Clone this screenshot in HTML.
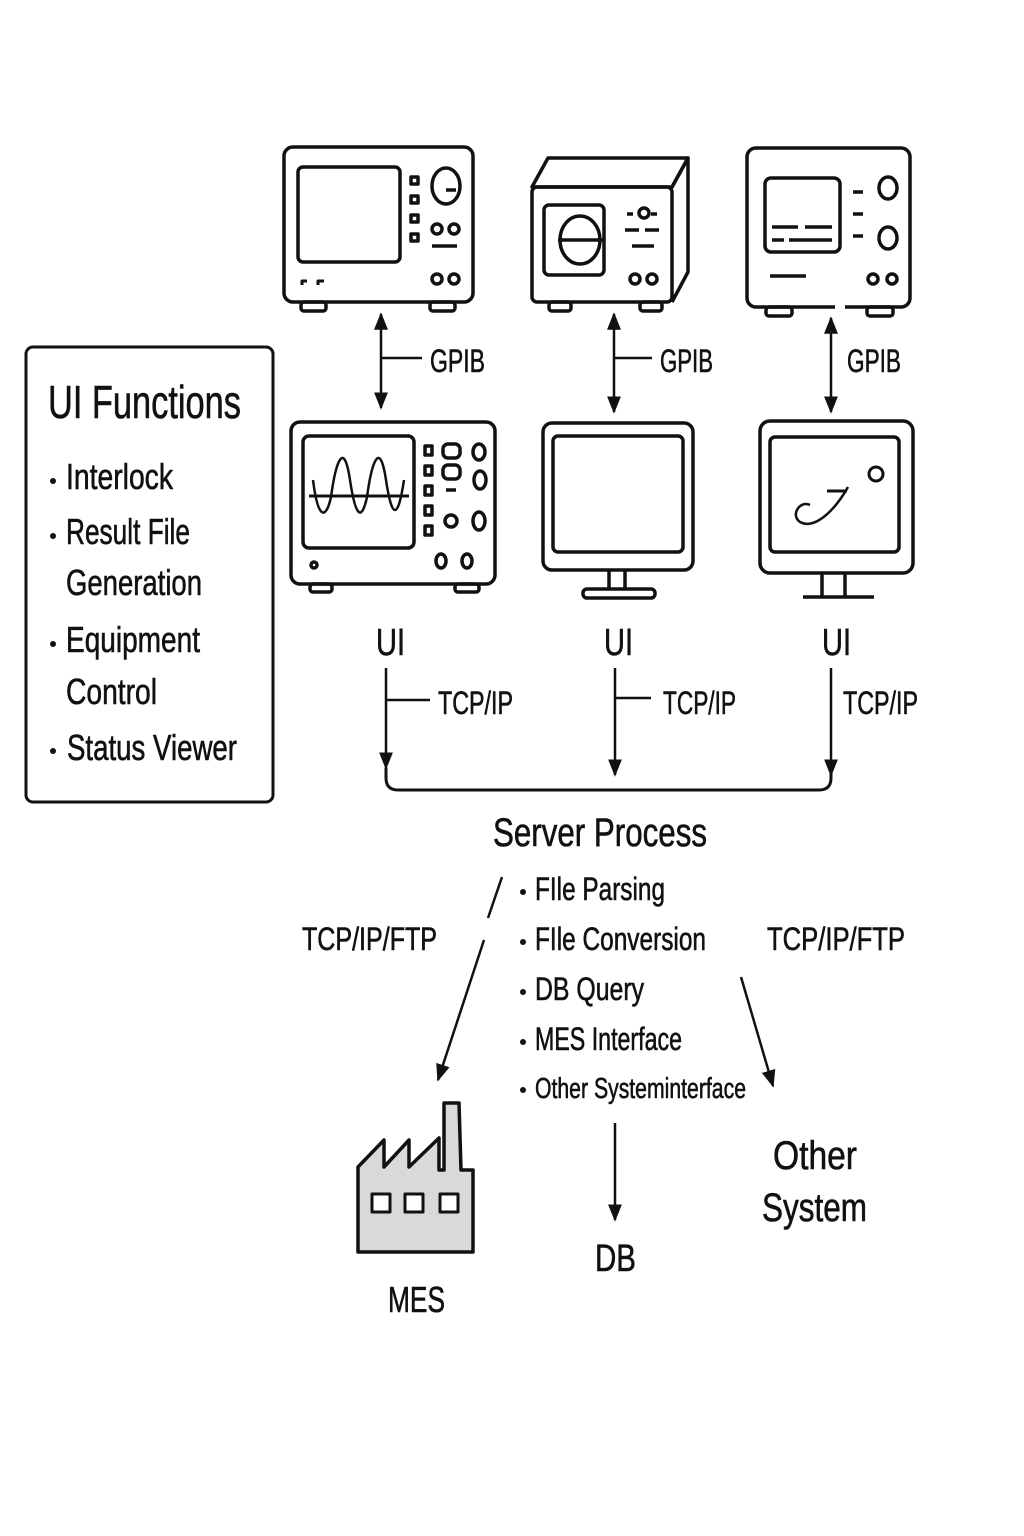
<!DOCTYPE html>
<html><head><meta charset="utf-8"><style>html,body{margin:0;padding:0;background:#fff}svg{display:block}text{font-family:"Liberation Sans Narrow","Liberation Sans",sans-serif;fill:#111;stroke:#111;stroke-width:0.6}</style></head>
<body>
<svg width="1024" height="1536" viewBox="0 0 1024 1536" xmlns="http://www.w3.org/2000/svg">
<defs><marker id="ah" viewBox="0 0 10 10" refX="9" refY="5" markerWidth="7" markerHeight="7" orient="auto-start-reverse"><path d="M0,1 L10,5 L0,9 z" fill="#111"/></marker></defs>
<g fill="none" stroke="#111" stroke-width="3.5" stroke-linejoin="round">
<!-- device 1 -->
<rect x="284" y="147" width="189" height="155" rx="9"/>
<rect x="298" y="167" width="102" height="95" rx="5"/>
<rect x="301" y="302" width="25" height="9" rx="3"/><rect x="430" y="302" width="25" height="9" rx="3"/>
<rect x="411" y="177" width="7" height="7"/><rect x="411" y="196" width="7" height="7"/><rect x="411" y="215" width="7" height="7"/><rect x="411" y="234" width="7" height="7"/>
<ellipse cx="446" cy="186" rx="14" ry="18"/><path d="M446,190 h10"/>
<circle cx="437" cy="229" r="5"/><circle cx="454" cy="229" r="5"/><path d="M432,246 h25"/>
<circle cx="437" cy="279" r="5"/><circle cx="454" cy="279" r="5"/>
<path d="M302,285 v-4 h5 M318,285 v-4 h6" stroke-width="3"/>
<!-- device 2 -->
<path d="M532,187 L548,158 L688,158 L672,187 Z"/>
<rect x="532" y="187" width="140" height="115" rx="5"/>
<path d="M672,187 L688,158 L688,272 L672,302"/>
<rect x="544" y="205" width="60" height="70" rx="5"/>
<ellipse cx="580" cy="240" rx="20" ry="24"/><path d="M558,240 h46"/>
<path d="M627,214 h6 M651,214 h6 M625,230 h14 M645,230 h14 M632,246 h22"/><circle cx="644" cy="213" r="5"/>
<circle cx="635" cy="279" r="5"/><circle cx="652" cy="279" r="5"/>
<rect x="549" y="302" width="22" height="9" rx="3"/><rect x="640" y="302" width="22" height="9" rx="3"/>
<!-- device 3 -->
<rect x="747" y="148" width="163" height="159" rx="9"/>
<rect x="766" y="307" width="26" height="9" rx="3"/><rect x="867" y="307" width="26" height="9" rx="3"/>
<path d="M835,307 h10" stroke="#fff" stroke-width="6"/>
<rect x="765" y="178" width="75" height="74" rx="6"/>
<path d="M772,227 h26 M805,227 h27 M772,240 h12 M789,240 h43 M770,276 h36 M853,192 h10 M853,214 h10 M853,236 h10"/>
<ellipse cx="888" cy="188" rx="9" ry="11"/><ellipse cx="888" cy="238" rx="9" ry="11"/>
<circle cx="873" cy="279" r="5"/><circle cx="892" cy="279" r="5"/>
<!-- GPIB arrows -->
<path d="M381,314 V408" marker-start="url(#ah)" marker-end="url(#ah)" stroke-width="2.5"/><path d="M381,358 H422" stroke-width="2.5"/>
<path d="M614,314 V412" marker-start="url(#ah)" marker-end="url(#ah)" stroke-width="2.5"/><path d="M614,358 H652" stroke-width="2.5"/>
<path d="M831,318 V412" marker-start="url(#ah)" marker-end="url(#ah)" stroke-width="2.5"/>
<!-- device 4 scope -->
<rect x="291" y="422" width="204" height="162" rx="9"/>
<rect x="303" y="436" width="111" height="112" rx="6"/>
<path d="M309,496 H409" stroke-width="3"/>
<path d="M313,480 C318,520 326,520 331,497 C336,460 344,440 350,480 C356,520 362,520 367,497 C372,460 380,440 386,480 C392,520 398,520 404,480" stroke-width="2.5"/>
<rect x="425" y="446" width="7" height="9"/><rect x="425" y="466" width="7" height="9"/><rect x="425" y="486" width="7" height="9"/><rect x="425" y="506" width="7" height="9"/><rect x="425" y="526" width="7" height="9"/>
<rect x="443" y="444" width="17" height="14" rx="5"/><rect x="443" y="465" width="17" height="14" rx="5"/><path d="M446,490 h10"/><circle cx="451" cy="521" r="6"/>
<ellipse cx="479" cy="452" rx="6" ry="8"/><ellipse cx="480" cy="480" rx="6" ry="9"/><ellipse cx="479" cy="521" rx="6" ry="9"/>
<ellipse cx="441" cy="561" rx="5" ry="7"/><ellipse cx="467" cy="561" rx="5" ry="7"/><circle cx="314" cy="565" r="3"/>
<rect x="310" y="584" width="22" height="8" rx="3"/><rect x="455" y="584" width="24" height="8" rx="3"/>
<!-- monitor 5 -->
<rect x="543" y="423" width="150" height="147" rx="9"/>
<rect x="553" y="436" width="130" height="116" rx="5"/>
<path d="M609,570 V590 M625,570 V590"/><rect x="583" y="589" width="72" height="9" rx="4"/>
<!-- monitor 6 -->
<rect x="760" y="421" width="153" height="152" rx="10"/>
<rect x="770" y="437" width="129" height="115" rx="5"/>
<path d="M822,573 V596 M845,573 V596 M803,597 H874"/>
<circle cx="876" cy="474" r="7" stroke-width="3"/><path d="M827,491 h20" stroke-width="3"/>
<path d="M848,487 C835,510 815,530 800,522 C790,515 800,500 810,505" stroke-width="2.5"/>
<!-- TCP/IP -->
<path d="M386,668 V768" marker-end="url(#ah)" stroke-width="2.5"/><path d="M386,700 H430" stroke-width="2.5"/>
<path d="M615,668 V775" marker-end="url(#ah)" stroke-width="2.5"/><path d="M615,698 H651" stroke-width="2.5"/>
<path d="M831,668 V775" marker-end="url(#ah)" stroke-width="2.5"/>
<path d="M386,768 V778 Q386,790 398,790 H819 Q831,790 831,778 V768" stroke-width="3"/>
<!-- left box -->
<rect x="26" y="347" width="247" height="455" rx="7" stroke-width="3"/>
<!-- lower arrows -->
<path d="M502,877 L488,918" stroke-width="2.5"/>
<path d="M484,940 L438,1080" marker-end="url(#ah)" stroke-width="2.5"/>
<path d="M741,977 L773,1086" marker-end="url(#ah)" stroke-width="2.5"/>
<path d="M615,1123 V1220" marker-end="url(#ah)" stroke-width="2.5"/>
<!-- factory -->
<path d="M358,1167 L384,1140 L384,1167 L409,1140 L409,1167 L439,1138 L439,1170 L444,1170 L444,1103 L459,1103 L461,1170 L473,1170 L473,1252 L358,1252 Z" fill="#d9d9d9"/>
<rect x="372" y="1194" width="18" height="18" fill="#fff" stroke-width="3"/><rect x="405" y="1194" width="18" height="18" fill="#fff" stroke-width="3"/><rect x="440" y="1194" width="18" height="18" fill="#fff" stroke-width="3"/>
</g>
<g fill="#111">
<circle cx="53" cy="481" r="3"/><circle cx="53" cy="536" r="3"/><circle cx="53" cy="644" r="3"/><circle cx="53" cy="751" r="3"/>
<circle cx="523" cy="892" r="3"/><circle cx="523" cy="942" r="3"/><circle cx="523" cy="992" r="3"/><circle cx="523" cy="1042" r="3"/><circle cx="523" cy="1090" r="3"/>
</g>
<g>
<text x="48" y="418" font-size="46" textLength="193" lengthAdjust="spacingAndGlyphs">UI Functions</text>
<text x="66" y="489" font-size="36" textLength="107" lengthAdjust="spacingAndGlyphs">Interlock</text>
<text x="66" y="544" font-size="36" textLength="124" lengthAdjust="spacingAndGlyphs">Result File</text>
<text x="66" y="595" font-size="36" textLength="136" lengthAdjust="spacingAndGlyphs">Generation</text>
<text x="66" y="652" font-size="36" textLength="134" lengthAdjust="spacingAndGlyphs">Equipment</text>
<text x="66" y="704" font-size="36" textLength="91" lengthAdjust="spacingAndGlyphs">Control</text>
<text x="67" y="760" font-size="36" textLength="170" lengthAdjust="spacingAndGlyphs">Status Viewer</text>
<text x="430" y="372" font-size="32" textLength="55" lengthAdjust="spacingAndGlyphs">GPIB</text>
<text x="660" y="372" font-size="32" textLength="53" lengthAdjust="spacingAndGlyphs">GPIB</text>
<text x="847" y="372" font-size="32" textLength="54" lengthAdjust="spacingAndGlyphs">GPIB</text>
<text x="376" y="655" font-size="38" textLength="29" lengthAdjust="spacingAndGlyphs">UI</text>
<text x="604" y="655" font-size="38" textLength="29" lengthAdjust="spacingAndGlyphs">UI</text>
<text x="822" y="655" font-size="38" textLength="29" lengthAdjust="spacingAndGlyphs">UI</text>
<text x="438" y="714" font-size="32" textLength="75" lengthAdjust="spacingAndGlyphs">TCP/IP</text>
<text x="663" y="714" font-size="32" textLength="73" lengthAdjust="spacingAndGlyphs">TCP/IP</text>
<text x="843" y="714" font-size="32" textLength="75" lengthAdjust="spacingAndGlyphs">TCP/IP</text>
<text x="493" y="846" font-size="40" textLength="214" lengthAdjust="spacingAndGlyphs">Server Process</text>
<text x="535" y="900" font-size="32" textLength="130" lengthAdjust="spacingAndGlyphs">FIle Parsing</text>
<text x="535" y="950" font-size="32" textLength="171" lengthAdjust="spacingAndGlyphs">FIle Conversion</text>
<text x="535" y="1000" font-size="32" textLength="109" lengthAdjust="spacingAndGlyphs">DB Query</text>
<text x="535" y="1050" font-size="32" textLength="147" lengthAdjust="spacingAndGlyphs">MES Interface</text>
<text x="535" y="1098" font-size="29" textLength="211" lengthAdjust="spacingAndGlyphs">Other Systeminterface</text>
<text x="302" y="950" font-size="32" textLength="135" lengthAdjust="spacingAndGlyphs">TCP/IP/FTP</text>
<text x="767" y="950" font-size="32" textLength="138" lengthAdjust="spacingAndGlyphs">TCP/IP/FTP</text>
<text x="773" y="1169" font-size="40" textLength="84" lengthAdjust="spacingAndGlyphs">Other</text>
<text x="762" y="1221" font-size="40" textLength="105" lengthAdjust="spacingAndGlyphs">System</text>
<text x="595" y="1271" font-size="38" textLength="41" lengthAdjust="spacingAndGlyphs">DB</text>
<text x="388" y="1312" font-size="36" textLength="57" lengthAdjust="spacingAndGlyphs">MES</text>
</g>
</svg>
</body></html>
